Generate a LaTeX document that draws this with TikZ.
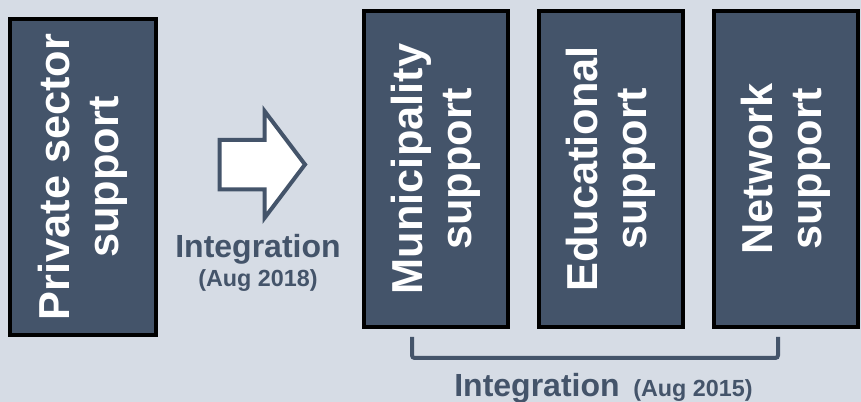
\documentclass[tikz,border=0pt]{standalone}
\usepackage{fontspec}
\setmainfont{Liberation Sans}
\usetikzlibrary{positioning}

\definecolor{bgblue}{HTML}{D6DCE5}
\definecolor{slate}{HTML}{44546A}

\tikzset{
    supportbox/.style={draw=black, line width=3pt, fill=slate, text=white,
        font=\bfseries\fontsize{32.5}{37}\selectfont, align=center, rotate=90,
        inner sep=0pt, minimum width=237pt, minimum height=108pt},
    steplabel/.style={text=slate, font=\bfseries\fontsize{24}{28}\selectfont, inner sep=0pt, anchor=base},
    datelabel/.style={text=slate, font=\bfseries\fontsize{17.5}{20}\selectfont, inner sep=0pt, anchor=base},
}

\begin{document}
\begin{tikzpicture}[x=0.75pt,y=0.75pt,yscale=-1,xscale=1]
    % background
    \fill[bgblue] (0,0) rectangle (861,402);
    \useasboundingbox (0,0) rectangle (861,402);

    % old unit
    \node[supportbox, minimum height=109.5pt] (private) at (83,177) {Private sector\\support};

    % block arrow
    \draw[slate, line width=3pt, fill=white, line join=miter]
        (219.5,140) -- (264.5,140) -- (264.5,111) -- (305,164.5) -- (264.5,218) -- (264.5,189.5) -- (219.5,189.5) -- cycle;
    \node[steplabel] (integA) at (258,258) {Integration};
    \node[datelabel] (dateA) at (258,287) {(Aug 2018)};

    % merged units
    \node[supportbox] (muni) at (436,169) {Municipality\\support};
    \node[supportbox] (edu) at (611,169) {Educational\\support};
    \node[supportbox] (net) at (786,169) {Network\\support};

    % bracket under the three units
    \coordinate (brL) at (412,337);
    \coordinate (brR) at (778,337);
    \draw[slate, line width=3pt, rounded corners=2pt] (brL) -- (412,358) -- (778,358) -- (brR);
    \node[steplabel] (integB) at (537,397) {Integration};
    \node[datelabel] (dateB) at (693,397) {(Aug 2015)};
\end{tikzpicture}
\end{document}
